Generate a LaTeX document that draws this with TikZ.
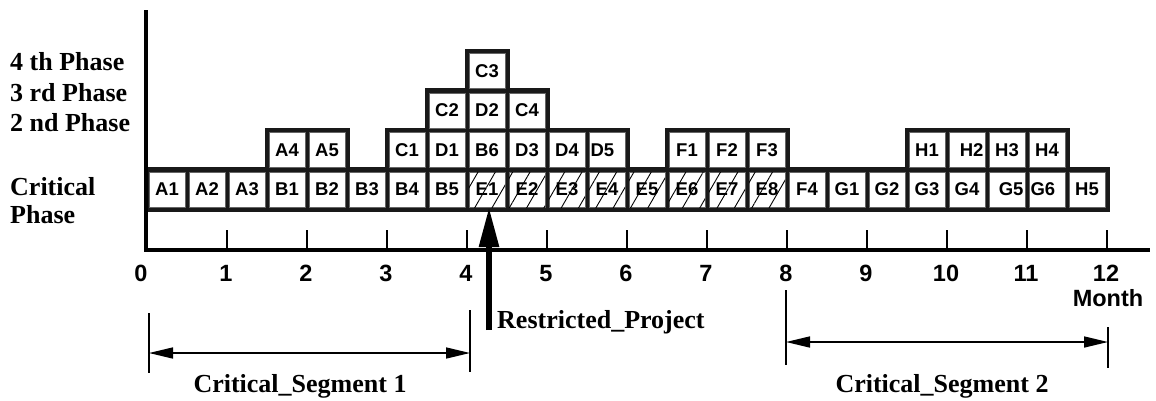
\documentclass[tikz,border=0pt]{standalone}
\usepackage{fontspec}
\setmainfont{Liberation Serif}
\newfontfamily\hv{Liberation Sans}
\usetikzlibrary{arrows.meta,patterns.meta}
\tikzset{
  cell/.style={rectangle, fill=white, draw=black!60, line width=0.4pt,
    minimum width=36pt, minimum height=35pt, inner sep=0pt,
    font=\hv\bfseries\fontsize{18.5}{19}\selectfont},
  hatch/.style={postaction={pattern={Lines[angle=60,distance=15pt,line width=0.9pt]}}},
  txtl/.style={text width=33pt, align=left},
  txtr/.style={text width=33pt, align=right},
  blk/.style={fill=black!90},
  axisline/.style={line width=4.5pt, line cap=rect},
  tick/.style={line width=2.5pt},
  num/.style={anchor=base, font=\hv\bfseries\fontsize{23.5}{25}\selectfont, inner sep=0pt},
  phase/.style={anchor=base west, font=\bfseries\fontsize{26}{28}\selectfont, inner sep=0pt},
  seglabel/.style={anchor=base, font=\bfseries\fontsize{26}{28}\selectfont, inner sep=0pt},
  bar/.style={line width=2.2pt},
  dim/.style={line width=1.6pt, {Triangle[length=24pt,width=11pt]}-{Triangle[length=24pt,width=11pt]}},
  restr/.style={line width=6pt, -{Triangle[length=40pt,width=19pt]}},
}
\begin{document}
\begin{tikzpicture}[x=1pt,y=-1pt]
\useasboundingbox[fill=white] (0,0) rectangle (1156,400);
% black block backgrounds
\fill[blk] (144.5,167.25) rectangle (1109.5,211.75);
\fill[blk] (264.5,127.75) rectangle (349.5,170);
\fill[blk] (384.5,127.75) rectangle (629.5,170);
\fill[blk] (424.5,88.25) rectangle (549.5,131);
\fill[blk] (464.5,48.75) rectangle (509.5,92);
\fill[blk] (664.5,127.75) rectangle (789.5,170);
\fill[blk] (904.5,127.75) rectangle (1069.5,170);
% critical row
\foreach \n/\k/\o in {A1/0/{},A2/1/{},A3/2/{},B1/3/{},B2/4/{},B3/5/{},B4/6/{},B5/7/{},
  E1/8/hatch,E2/9/hatch,E3/10/hatch,E4/11/hatch,E5/12/hatch,E6/13/hatch,E7/14/hatch,E8/15/hatch,
  F4/16/{},G1/17/{},G2/18/{},G3/19/{},G4/20/{},G5/21/txtr,G6/22/txtl,H5/23/{}}
  \node[cell,\o] (\n) at ({167+40*\k},189.5) {\n};
% 2nd phase
\foreach \n/\k/\o in {A4/3/{},A5/4/{},C1/6/{},D1/7/{},B6/8/{},D3/9/{},D4/10/{},D5/11/txtl,
  F1/13/{},F2/14/{},F3/15/{},H1/19/{},H2/20/txtr,H3/21/{},H4/22/{}}
  \node[cell,\o] (\n) at ({167+40*\k},150) {\n};
% 3rd phase
\foreach \n/\k in {C2/7,D2/8,C4/9}
  \node[cell] (\n) at ({167+40*\k},110.5) {\n};
% 4th phase
\node[cell] (C3) at (487,71) {C3};
% axes
\draw[axisline] (146,12) -- (146,250) -- (1148,250);
\foreach \m in {1,...,12}
  \draw[tick] ({147+80*\m},230) -- ({147+80*\m},250);
\node[num] (n0) at (141,281) {0};
\foreach \m in {1,...,12}
  \node[num] (n\m) at ({146+80*\m},281) {\m};
\node[num] (month) at (1108,306) {Month};
% phase labels
\node[phase] (l4) at (10,70.5) {4 th Phase};
\node[phase] (l3) at (10,101.5) {3 rd Phase};
\node[phase] (l2) at (10,131.5) {2 nd Phase};
\node[phase] (lc) at (10,195) {Critical};
\node[phase] (lp) at (10,223) {Phase};
% restricted project
\coordinate (rp) at (489,330);
\draw[restr] (rp) -- (rp |- E1.south);
\node[phase] (rlabel) at (497,328) {Restricted\_Project};
% critical segment 1
\coordinate (s1lt) at (149,313); \coordinate (s1lb) at (149,373);
\coordinate (s1rt) at (470,310); \coordinate (s1rb) at (470,372);
\coordinate (s1a) at (149,353); \coordinate (s1b) at (470,353);
\draw[bar] (s1lt) -- (s1lb);
\draw[bar] (s1rt) -- (s1rb);
\draw[dim] (s1a) -- (s1b);
\node[seglabel] (seg1) at (300,392) {Critical\_Segment 1};
% critical segment 2
\coordinate (s2lt) at (786,290); \coordinate (s2lb) at (786,365);
\coordinate (s2rt) at (1108,327); \coordinate (s2rb) at (1108,368);
\coordinate (s2a) at (786,342); \coordinate (s2b) at (1108,342);
\draw[bar] (s2lt) -- (s2lb);
\draw[bar] (s2rt) -- (s2rb);
\draw[dim] (s2a) -- (s2b);
\node[seglabel] (seg2) at (942,392) {Critical\_Segment 2};
\end{tikzpicture}
\end{document}
